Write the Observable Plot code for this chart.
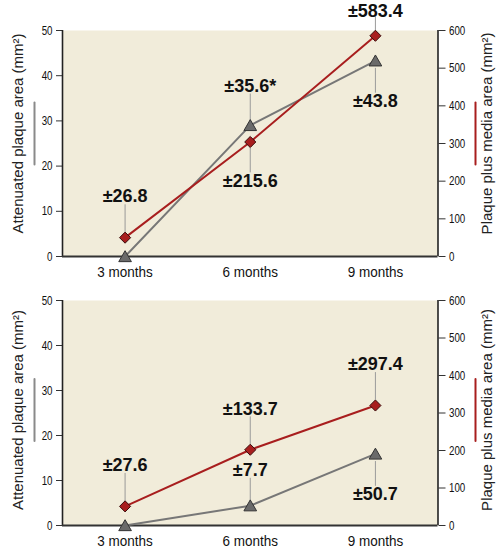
<!DOCTYPE html>
<html><head><meta charset="utf-8">
<script src="https://cdn.jsdelivr.net/npm/d3@7"></script>
<script src="https://cdn.jsdelivr.net/npm/@observablehq/plot@0.6"></script>
<style>
body{margin:0;background:#fff;}
#chart svg{display:block;}
</style></head><body><div id="chart"></div>
<script>
// ---------- data ----------
const categories = ["3 months", "6 months", "9 months"];
const leftTicks = [0, 10, 20, 30, 40, 50];
const rightTicks = [0, 100, 200, 300, 400, 500, 600];
const leftTitle = "Attenuated plaque area (mm²)";
const rightTitle = "Plaque plus media area (mm²)";

const attenuatedTop = [0, 29, 43.3];
const mediaTop = [50, 304, 586];
const attenuatedBottom = [0, 4.4, 15.9];
const mediaBottom = [51, 202, 320];

const errorsTop = [
  {month: "3 months", series: "media", text: "±26.8", side: "above"},
  {month: "6 months", series: "attenuated", text: "±35.6*", side: "above"},
  {month: "6 months", series: "media", text: "±215.6", side: "below"},
  {month: "9 months", series: "media", text: "±583.4", side: "above"},
  {month: "9 months", series: "attenuated", text: "±43.8", side: "below"}
];
const errorsBottom = [
  {month: "3 months", series: "media", text: "±27.6", side: "above"},
  {month: "6 months", series: "media", text: "±133.7", side: "above"},
  {month: "6 months", series: "attenuated", text: "±7.7", side: "above"},
  {month: "9 months", series: "media", text: "±297.4", side: "above"},
  {month: "9 months", series: "attenuated", text: "±50.7", side: "below"}
];

// ---------- styles ----------
const SANS = "'Liberation Sans',Arial,sans-serif";
const BG = "#f1ecda";
const RED = "#a81e1e";
const GRAY = "#777";
const ratio = rightTicks[rightTicks.length - 1] / leftTicks[leftTicks.length - 1];
const placement = {
  above: {text: -41, start: -6, end: -33},
  below: {text: 39, start: 6, end: 30}
};
const overrides = {"±583.4": {text: -25, start: -5, end: -19}, "±7.7": {text: -37, start: -5, end: -29}};
const stem = {draw(ctx, l) { ctx.moveTo(0, 0); ctx.lineTo(0, -l); }};

function panel(att, med, errors, o) {
  const rows = categories.map((m, i) => ({i, month: m, attenuated: att[i], media: med[i] / ratio}));
  const xDomain = [-0.5, categories.length - 0.5];
  const labelMarks = errors.flatMap(e => {
    const i = categories.indexOf(e.month);
    const p = {...placement[e.side], ...(overrides[e.text] || {})};
    const isTri = e.series === "attenuated";
    const d = {i, y: isTri ? att[i] : med[i] / ratio, text: e.text};
    const base = isTri ? 1.5 : 0;
    const up = p.end < p.start;
    return [
      Plot.vector([d], {x: "i", y: "y", dy: p.start + base, length: Math.abs(p.end - p.start),
        rotate: up ? 0 : 180, anchor: "start", shape: stem, stroke: "#9a9a9a", strokeWidth: 1}),
      Plot.text([d], {x: "i", y: "y", text: "text", dy: p.text + base, fontFamily: SANS,
        fontWeight: "bold", fontSize: 18, fill: "#111", ariaLabel: "error label"})
    ];
  });
  return Plot.plot({
    width: 502, height: o.height, marginTop: o.marginTop, marginBottom: o.marginBottom,
    marginLeft: 62, marginRight: 64.5,
    x: {type: "linear", domain: xDomain},
    y: {domain: [leftTicks[0], leftTicks[leftTicks.length - 1]]},
    style: {fontFamily: SANS, fontSize: "12px", color: "#111", background: "white", overflow: "visible"},
    marks: [
      Plot.frame({fill: BG, stroke: "none"}),
      Plot.axisY({ticks: leftTicks, tickSize: 6, tickPadding: 4, label: null, fontSize: 12.5, stroke: "#333"}),
      Plot.axisY({anchor: "right", ticks: rightTicks.map(v => v / ratio), tickFormat: v => String(Math.round(v * ratio)),
        tickSize: 7, tickPadding: 4, label: null, fontSize: 12.5, stroke: "#333"}),
      Plot.axisX({ticks: categories.map((_, i) => i), tickFormat: i => categories[i], tickSize: 0, tickPadding: 10,
        fontFamily: SANS, fontSize: 14.5, label: null}),
      Plot.ruleX(xDomain, {stroke: "#222", strokeWidth: 1.6}),
      Plot.ruleY([0], {stroke: "#333", strokeWidth: 2}),
      Plot.text([leftTitle], {frameAnchor: "left", textAnchor: "middle", dx: -44, dy: o.titleDy, rotate: -90, fontFamily: SANS, fontSize: 15, fill: "#222", ariaLabel: "axis title"}),
      Plot.text([rightTitle], {frameAnchor: "right", textAnchor: "middle", dx: 49.5, dy: o.titleDy, rotate: -90, fontFamily: SANS, fontSize: 15, fill: "#222", ariaLabel: "axis title"}),
      Plot.vector([0], {frameAnchor: "left", dx: -28, dy: o.titleDy, length: 62, anchor: "middle", shape: stem, stroke: "#8a8a8a", strokeWidth: 2}),
      Plot.vector([0], {frameAnchor: "right", dx: 37.5, dy: o.titleDy, length: 62, anchor: "middle", shape: stem, stroke: RED, strokeWidth: 2}),
      Plot.line(rows, {x: "i", y: "attenuated", stroke: GRAY, strokeWidth: 2}),
      Plot.line(rows, {x: "i", y: "media", stroke: RED, strokeWidth: 2}),
      ...labelMarks,
      Plot.dot(rows, {x: "i", y: "attenuated", symbol: "triangle", r: 4.7, dy: 1.5, fill: "#6a6a6a", stroke: "#333", strokeWidth: 1}),
      Plot.dot(rows, {x: "i", y: "media", symbol: "diamond2", r: 5, fill: RED, stroke: "#3a0c0c", strokeWidth: 1})
    ]
  });
}

// narrow the condensed-style texts (no condensed font is installed)
function condense(svg, selector, f) {
  svg.querySelectorAll(selector).forEach(t => {
    const w = t.getComputedTextLength();
    t.setAttribute("textLength", (w * f).toFixed(2));
    t.setAttribute("lengthAdjust", "spacingAndGlyphs");
  });
}

const chart = document.getElementById("chart");
const panels = [
  panel(attenuatedTop, mediaTop, errorsTop, {height: 280, marginTop: 30, marginBottom: 24, titleDy: -10}),
  panel(attenuatedBottom, mediaBottom, errorsBottom, {height: 270, marginTop: 20, marginBottom: 25, titleDy: -3})
];
for (const svg of panels) {
  chart.append(svg);
  condense(svg, 'g[aria-label="error label"] text', 0.81);
  condense(svg, 'g[aria-label="y-axis tick label"] text', 0.78);
  condense(svg, 'g[aria-label="axis title"] text', 0.9);
  condense(svg, 'g[aria-label="x-axis tick label"] text', 0.93);
}
</script></body></html>
